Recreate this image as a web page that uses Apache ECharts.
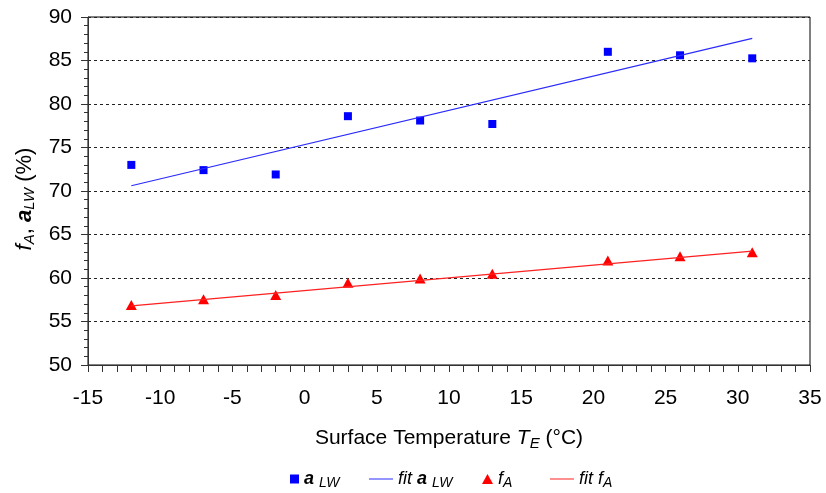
<!DOCTYPE html>
<html>
<head>
<meta charset="utf-8">
<script src="https://cdn.jsdelivr.net/npm/echarts@6/dist/echarts.min.js"></script>
<style>
  html, body { margin: 0; padding: 0; background: #fff; }
  #main { width: 826px; height: 493px; }
</style>
</head>
<body>
<div id="main"></div>
<script>
// measured points
var temps = [-12, -7, -2, 3, 8, 13, 21, 26, 31];
var aLW = [73.0, 72.4, 71.9, 78.6, 78.1, 77.7, 86.0, 85.6, 85.25];
var fA = [56.9, 57.55, 58.05, 59.45, 59.95, 60.5, 62.0, 62.5, 62.95];
// fit line end points
var fitTemps = [-12, 31];
var fitALW = [70.6, 87.55];
var fitFA = [56.8, 63.1];

var font = 'Liberation Sans, Arial, sans-serif';

function pairs(xs, ys) {
  return xs.map(function (x, i) { return [x, ys[i]]; });
}

var chart = echarts.init(document.getElementById('main'));

var legendText = {
  fontFamily: font,
  fontSize: 18,
  fontStyle: 'italic',
  color: '#000',
  rich: {
    b: { fontFamily: font, fontSize: 18, fontStyle: 'italic', fontWeight: 'bold', color: '#000' },
    i: { fontFamily: font, fontSize: 18, fontStyle: 'italic', color: '#000' },
    s: { fontFamily: font, fontSize: 14, fontStyle: 'italic', color: '#000', padding: [9, 0, 0, 0] }
  }
};

function legendAt(left, name, icon, w, h, fmt) {
  return {
    left: left,
    top: 465,
    data: [{ name: name, icon: icon }],
    itemWidth: w,
    itemHeight: h,
    textStyle: legendText,
    formatter: function () { return fmt; },
    selectedMode: false
  };
}

var option = {
  animation: false,
  grid: {
    left: 88,
    right: 16,
    top: 17,
    bottom: 128,
    show: true,
    borderColor: '#000',
    borderWidth: 1,
    backgroundColor: '#fff'
  },
  legend: [
    legendAt(285, 'aLW', 'rect', 9, 9, '{b|a} {s|LW}'),
    legendAt(364, 'fit aLW', 'path://M0,0 L24,0 L24,1 L0,1 Z', 24, 1, '{i|fit} {b|a} {s|LW}'),
    legendAt(477, 'fA', 'triangle', 11, 10, '{i|f}{s|A}'),
    legendAt(545, 'fit fA', 'path://M0,0 L24,0 L24,1 L0,1 Z', 24, 1, '{i|fit f}{s|A}')
  ],
  xAxis: {
    type: 'value',
    min: -15,
    max: 35,
    interval: 5,
    name: 'Surface Temperature {it|T}{s|E} (°C)',
    nameLocation: 'middle',
    nameGap: 61,
    nameTextStyle: {
      fontFamily: font,
      fontSize: 21,
      color: '#000',
      rich: {
        it: { fontFamily: font, fontSize: 21, fontStyle: 'italic', color: '#000' },
        s: { fontFamily: font, fontSize: 15, fontStyle: 'italic', color: '#000', padding: [10, 0, 0, 0] }
      }
    },
    axisLine: { onZero: false, lineStyle: { color: '#333', width: 1 } },
    axisTick: { show: true, length: 7, lineStyle: { color: '#333' } },
    minorTick: { show: true, splitNumber: 5, length: 7, lineStyle: { color: '#333' } },
    splitLine: { show: false },
    axisLabel: { fontFamily: font, fontSize: 21, color: '#000', margin: 23 }
  },
  yAxis: {
    type: 'value',
    min: 50,
    max: 90,
    interval: 5,
    name: '{i|f}{s|A}{n|, }{b|a}{s|LW}{n| (%)}',
    nameLocation: 'middle',
    nameGap: 50,
    nameRotate: 90,
    nameTextStyle: {
      padding: [0, 16, 0, 0],
      rich: {
        i: { fontFamily: font, fontSize: 22, fontStyle: 'italic', color: '#000' },
        b: { fontFamily: font, fontSize: 22, fontStyle: 'italic', fontWeight: 'bold', color: '#000' },
        n: { fontFamily: font, fontSize: 22, color: '#000' },
        s: { fontFamily: font, fontSize: 15, fontStyle: 'italic', color: '#000', padding: [10, 0, 0, 0] }
      }
    },
    axisLine: { show: true, onZero: false, lineStyle: { color: '#333', width: 1 } },
    axisTick: { show: true, length: 7, lineStyle: { color: '#333' } },
    minorTick: { show: true, splitNumber: 5, length: 4, lineStyle: { color: '#333' } },
    splitLine: { show: true, lineStyle: { color: '#222', type: [3, 3], width: 1 } },
    axisLabel: { fontFamily: font, fontSize: 21, color: '#000', margin: 16 }
  },
  series: [
    {
      name: 'fit aLW',
      type: 'line',
      data: pairs(fitTemps, fitALW),
      symbol: 'none',
      lineStyle: { color: '#2a2aff', width: 1.2 },
      itemStyle: { color: '#2a2aff' }
    },
    {
      name: 'fit fA',
      type: 'line',
      data: pairs(fitTemps, fitFA),
      symbol: 'none',
      lineStyle: { color: '#ff2020', width: 1.2 },
      itemStyle: { color: '#ff2020' }
    },
    {
      name: 'aLW',
      type: 'scatter',
      data: pairs(temps, aLW),
      symbol: 'rect',
      symbolSize: 8,
      itemStyle: { color: '#0000ff', opacity: 1 }
    },
    {
      name: 'fA',
      type: 'scatter',
      data: pairs(temps, fA),
      symbol: 'triangle',
      symbolSize: [11, 10],
      itemStyle: { color: '#ff0000', opacity: 1 }
    }
  ]
};

chart.setOption(option);
</script>
</body>
</html>
